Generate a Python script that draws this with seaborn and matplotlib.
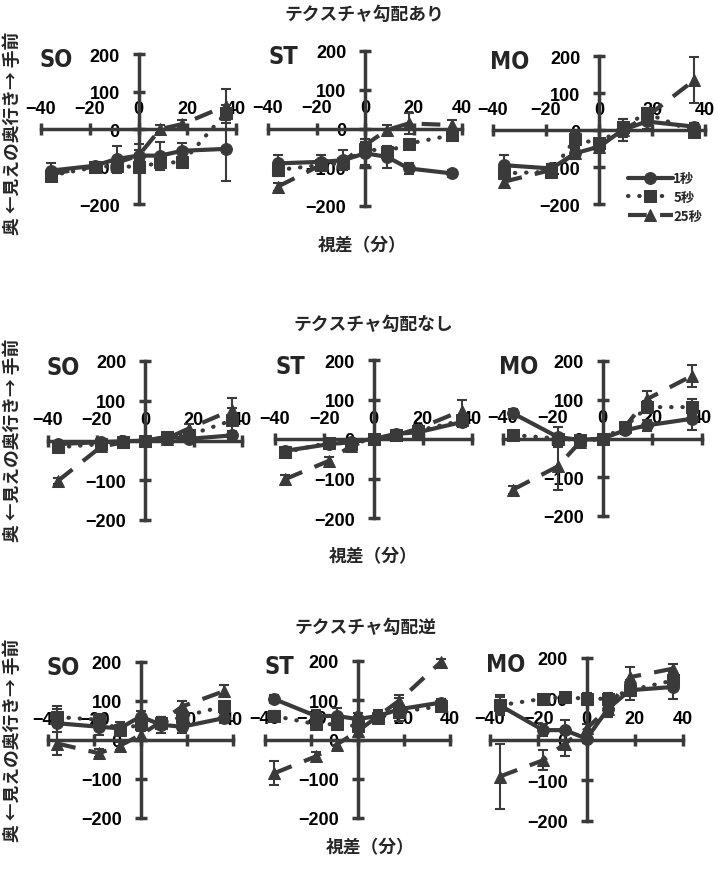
import numpy as np
import matplotlib
matplotlib.use("Agg")
import matplotlib.pyplot as plt
import seaborn as sns

sns.set_style("white")
plt.rcParams["font.family"] = ["Liberation Sans", "Noto Sans CJK JP", "DejaVu Sans"]
plt.rcParams["font.weight"] = "bold"

# ---- data (disparity in arcmin, perceived depth) ----
disparity = [-36, -18, -9, 0, 9, 18, 36]
durations = ["1秒", "5秒", "25秒"]
observers = ["SO", "ST", "MO"]
conditions = ["テクスチャ勾配あり", "テクスチャ勾配なし", "テクスチャ勾配逆"]

# テクスチャ勾配あり
ari_SO = [[-111, -98, -80, -71, -71, -58, -53],
          [-124, -102, -98, -102, -89, -89, 44],
          [-120, -100, -90, -71, 0, 13, 62]]
ari_SO_err = [[20, 10, 36, 15, 37, 22, 85],
              [15, 10, 12, 10, 12, 12, 20],
              [10, 10, 10, 30, 10, 10, 46]]
ari_ST = [[-90, -86, -82, -64, -73, -103, -116],
          [-107, -94, -90, -52, -60, -39, -17],
          [-150, -94, -85, -43, -4, 13, 9]]
ari_ST_err = [[21, 17, 26, 30, 28, 15, 8],
              [15, 12, 12, 15, 12, 10, 12],
              [10, 10, 10, 15, 12, 26, 12]]
ari_MO = [[-95, -104, -63, -45, 0, 23, 9],
          [-117, -113, -25, -36, 9, 45, -5],
          [-140, -108, -63, -45, 0, 36, 135]]
ari_MO_err = [[27, 12, 15, 15, 30, 20, 10],
              [15, 10, 20, 12, 20, 15, 10],
              [15, 10, 12, 12, 20, 20, 63]]

# テクスチャ勾配なし
nashi_SO = [[-9, -4, -2, 0, 9, 4, 13],
            [-17, -9, -4, 0, 9, 13, 51],
            [-102, -15, -5, 0, 5, 30, 77]]
nashi_SO_err = [[8, 8, 8, 5, 8, 8, 10],
                [8, 8, 8, 5, 8, 10, 30],
                [8, 8, 8, 5, 8, 12, 30]]
nashi_ST = [[-30, -13, -8, 0, 13, 17, 43],
            [-34, -9, -12, 0, 11, 21, 47],
            [-102, -55, -17, 0, 9, 26, 72]]
nashi_ST_err = [[10, 10, 8, 5, 10, 12, 12],
                [10, 8, 8, 5, 8, 10, 12],
                [12, 10, 10, 5, 8, 10, 28]]
nashi_MO = [[65, 4, -4, 0, 21, 34, 51],
            [9, 0, -4, 0, 30, 81, 81],
            [-132, -72, -9, 0, 30, 102, 162]]
nashi_MO_err = [[10, 25, 8, 5, 10, 15, 30],
                [8, 10, 8, 5, 10, 15, 20],
                [10, 60, 10, 5, 10, 20, 28]]

# テクスチャ勾配逆
gyaku_SO = [[43, 34, 30, 60, 39, 34, 56],
            [59, 52, 26, 40, 43, 60, 86],
            [-9, -34, -15, 13, 47, 86, 125]]
gyaku_SO_err = [[45, 20, 15, 15, 20, 15, 12],
                [20, 15, 12, 12, 15, 15, 15],
                [30, 10, 10, 10, 12, 15, 15]]
gyaku_ST = [[103, 60, 60, 52, 60, 77, 94],
            [60, 39, 39, 34, 56, 70, 85],
            [-86, -43, -13, 21, 60, 99, 197]]
gyaku_ST_err = [[10, 15, 20, 15, 15, 30, 10],
                [12, 12, 12, 12, 12, 12, 12],
                [30, 12, 10, 12, 12, 15, 8]]
gyaku_MO = [[84, 23, 23, 2, 76, 121, 129],
            [84, 100, 104, 100, 100, 121, 145],
            [-91, -51, -10, 27, 76, 153, 174]]
gyaku_MO_err = [[25, 15, 25, 10, 20, 25, 30],
                [20, 10, 10, 15, 15, 15, 20],
                [80, 25, 30, 10, 15, 25, 12]]

panels = [[(ari_SO, ari_SO_err), (ari_ST, ari_ST_err), (ari_MO, ari_MO_err)],
          [(nashi_SO, nashi_SO_err), (nashi_ST, nashi_ST_err), (nashi_MO, nashi_MO_err)],
          [(gyaku_SO, gyaku_SO_err), (gyaku_ST, gyaku_ST_err), (gyaku_MO, gyaku_MO_err)]]

# ---- layout (pixels: left, right, top, bottom of the -40..40 / 200..-200 box) ----
W, H = 717, 879
boxes = [[(41, 236, 55, 205), (268, 462, 52, 207), (493, 705, 57, 205)],
         [(48, 242, 362, 521), (275, 472, 361, 519), (503, 702, 362, 517)],
         [(48, 233, 663, 819), (265, 450, 662, 819), (490, 683, 659, 822)]]
title_pos = [(364, 15), (373, 325), (365, 628)]
xlabel_pos = [(362, 246), (373, 557), (370, 848)]
ylabel_pos = [(13, 133), (13, 440), (13, 740)]

col = "#3a3a3a"
markers = ["o", "s", "^"]
styles = [dict(ls="-"), dict(ls=(0, (0.1, 2.6)), dash_capstyle="round"), dict(ls=(0, (4.5, 3.2)))]
jp = ["Noto Sans CJK JP", "DejaVu Sans"]

fig = plt.figure(figsize=(W / 100, H / 100), dpi=100)

for r in range(3):
    for c in range(3):
        l, rr, t, b = boxes[r][c]
        ax = fig.add_axes([l / W, 1 - b / H, (rr - l) / W, (b - t) / H])
        vals, errs = panels[r][c]
        for k in range(3):
            sns.lineplot(x=disparity, y=vals[k], ax=ax, color=col, marker=markers[k],
                         markersize=8.5, markeredgecolor=col, lw=3, errorbar=None,
                         label=durations[k], clip_on=False, zorder=3, **styles[k])
            ax.errorbar(disparity, vals[k], yerr=errs[k], fmt="none", ecolor=col,
                        elinewidth=1.5, capsize=3.5, capthick=1.5, clip_on=False, zorder=3)
        ax.set_xlim(-40, 40)
        ax.set_ylim(-200, 200)
        ax.patch.set_alpha(0)
        for s in ["top", "right"]:
            ax.spines[s].set_visible(False)
        ax.spines["left"].set_position(("data", 0))
        ax.spines["bottom"].set_position(("data", 0))
        for s in ["left", "bottom"]:
            ax.spines[s].set_linewidth(2.5)
            ax.spines[s].set_color(col)
        ax.set_xticks([-40, -20, 0, 20, 40])
        ax.set_yticks([-200, -100, 0, 100, 200])
        ax.tick_params(axis="both", direction="inout", length=9, width=2.5, color=col,
                       labelsize=13, labelcolor="black", bottom=True, left=True)
        ax.tick_params(axis="x", pad=-25.5)
        ax.tick_params(axis="y", pad=9)
        for lab in ax.get_xticklabels() + ax.get_yticklabels():
            lab.set_fontweight("bold")
        ax.text(0.08, 0.965, observers[c], transform=ax.transAxes, ha="center", va="center",
                fontsize=17, fontweight="bold", fontstretch="condensed",
                family=["DejaVu Sans"], zorder=5)
        if r == 0 and c == 2:
            ax.legend(loc="upper left", bbox_to_anchor=(0.58, 0.3), frameon=False,
                      handlelength=3.4, handletextpad=0.05, labelspacing=0.35,
                      prop=dict(family=jp, weight="bold", size=9.5))
        else:
            ax.get_legend().remove()

    fig.text(title_pos[r][0] / W, 1 - title_pos[r][1] / H, conditions[r], ha="center",
             va="center", fontsize=12.8, fontweight="bold", family=jp)
    fig.text(xlabel_pos[r][0] / W, 1 - xlabel_pos[r][1] / H, "視差（分）", ha="center",
             va="center", fontsize=12.8, fontweight="bold", family=jp)
    fig.text(ylabel_pos[r][0] / W, 1 - ylabel_pos[r][1] / H, "奥 ←見えの奥行き→ 手前",
             ha="center", va="center", rotation=90, fontsize=12.8, fontweight="bold", family=jp)

fig.savefig("out.png", dpi=100)
